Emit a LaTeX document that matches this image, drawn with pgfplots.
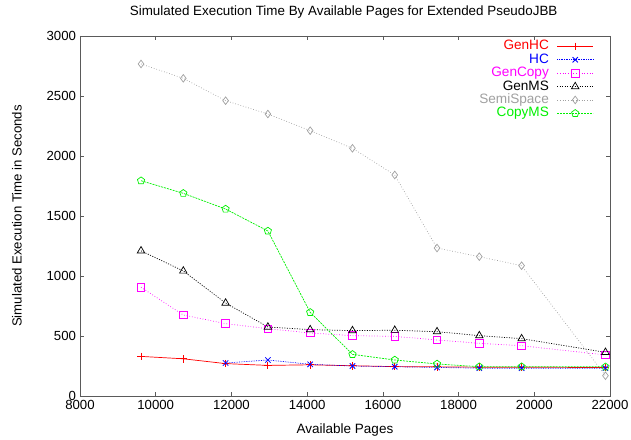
\documentclass[border=0pt]{standalone}
\usepackage{fontspec}
\setmainfont{Liberation Sans}
\usepackage{pgfplots}
\pgfplotsset{compat=1.18}
\definecolor{gpred}{RGB}{255,0,0}
\definecolor{gpblue}{RGB}{0,0,255}
\definecolor{gpmag}{RGB}{255,0,255}
\definecolor{gpgray}{RGB}{160,160,160}
\definecolor{gpgreen}{RGB}{0,240,0}
\definecolor{axisgray}{RGB}{90,90,90}
\begin{document}
\begin{tikzpicture}
\path[use as bounding box] (-80pt,-43pt) rectangle (551pt,396pt);
\begin{axis}[
  at={(0,0)}, anchor=origin,
  scale only axis, width=530pt, height=360pt,
  xmin=8000, xmax=22000, ymin=0, ymax=3000,
  xtick={8000,10000,...,22000}, ytick={0,500,...,3000},
  scaled x ticks=false, scaled y ticks=false,
  /pgf/number format/1000 sep={},
  /pgf/number format/assume math mode=true,
  tick label style={font=\fontsize{13.2}{15}\selectfont},
  xticklabel style={yshift=-0.5pt},
  yticklabel style={xshift=-0.5pt},
  axis line style={axisgray, line width=0.8pt},
  tick style={axisgray, line width=0.7pt},
  major tick length=4.5pt,
  title={Simulated Execution Time By Available Pages for Extended PseudoJBB},
  every axis title/.style={font=\fontsize{13.4}{15}\selectfont, at={(axis description cs:0.4975,1.0667)}, anchor=center},
  xlabel={Available Pages},
  ylabel={Simulated Execution Time in Seconds},
  every axis x label/.style={at={(axis description cs:0.5,-0.094)}, anchor=center, font=\fontsize{13.5}{15}\selectfont},
  every axis y label/.style={at={(axis description cs:-0.119,0.5)}, rotate=90, anchor=center, font=\fontsize{13.2}{15}\selectfont},
  legend style={draw=none, fill=none, at={(axis description cs:0.975,0.996)}, anchor=north east,
    font=\fontsize{13.6}{14}\selectfont, row sep=0pt, column sep=6pt,
    nodes={text height=9.8pt, text depth=2.6pt, inner ysep=0.5pt, inner xsep=2pt}},
  legend cell align=right,
  legend plot pos=right,
  legend image code/.code={\draw[mark repeat=2,mark phase=2] plot coordinates {(0pt,0pt) (18pt,0pt) (36pt,0pt)};},
  mark size=3.8pt,
  every axis plot/.append style={line width=0.7pt},
]
\addplot[color=gpred, solid, mark=+, mark options={solid, line width=0.8pt}] coordinates {
(9612,330) (10729,310) (11846,270) (12963,255) (14080,260) (15197,252) (16314,245) (17431,243) (18548,240) (19665,240) (21880,237)};
\addlegendentry[text=gpred]{GenHC}
\addplot[color=gpblue, densely dotted, mark=x, mark options={solid, line width=0.8pt}] coordinates {
(11846,275) (12963,300) (14080,264) (15197,250) (16314,244) (17431,238) (18548,232) (19665,232) (21880,232)};
\addlegendentry[text=gpblue]{HC}
\addplot[color=gpmag, dotted, mark=square, mark options={solid}] coordinates {
(9612,906) (10729,675) (11846,603) (12963,561) (14080,525) (15197,503) (16314,497) (17431,467) (18548,439) (19665,419) (21880,342)};
\addlegendentry[text=gpmag]{GenCopy}
\addplot[color=black, dash pattern=on 1pt off 1.5pt, mark=triangle, mark options={solid}, mark size=4.3pt] coordinates {
(9612,1210) (10729,1042) (11846,775) (12963,575) (14080,553) (15197,545) (16314,548) (17431,536) (18548,503) (19665,478) (21880,364)};
\addlegendentry[text=black]{GenMS}
\addplot[color=gpgray, dotted, mark=diamond, mark options={solid}] coordinates {
(9612,2767) (10729,2647) (11846,2461) (12963,2350) (14080,2211) (15197,2064) (16314,1842) (17431,1233) (18548,1161) (19665,1086) (21880,169)};
\addlegendentry[text=gpgray]{SemiSpace}
\addplot[color=gpgreen, dash pattern=on 2pt off 1pt, mark=pentagon, mark options={solid}] coordinates {
(9612,1794) (10729,1689) (11846,1558) (12963,1375) (14080,697) (15197,347) (16314,300) (17431,267) (18548,244) (19665,244) (21880,243)};
\addlegendentry[text=gpgreen]{CopyMS}
\end{axis}
\end{tikzpicture}
\end{document}
